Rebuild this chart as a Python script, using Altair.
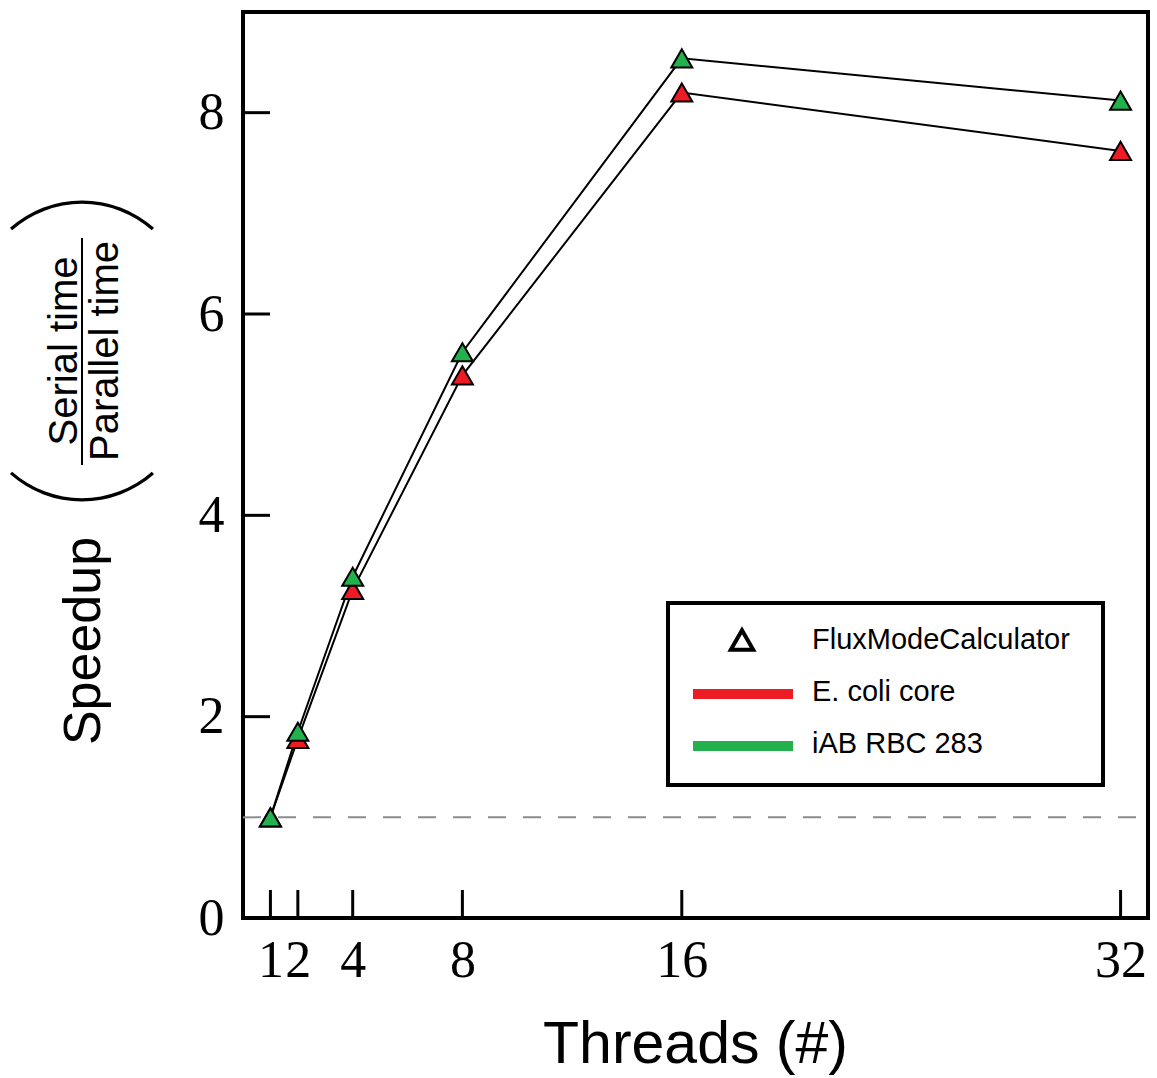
import altair as alt
import pandas as pd

# ---------------- data ----------------
threads = [1, 2, 4, 8, 16, 32]
ecoli_core = [1.0, 1.78, 3.26, 5.39, 8.20, 7.62]
iab_rbc_283 = [1.0, 1.85, 3.39, 5.62, 8.54, 8.12]
series_names = ["E. coli core", "iAB RBC 283"]
series_colors = ["#ed1c24", "#22b14c"]
x_ticks = [1, 2, 4, 8, 16, 32]
y_ticks = [0, 2, 4, 6, 8]
baseline_speedup = [1.0]
legend_labels = ["FluxModeCalculator", "E. coli core", "iAB RBC 283"]
x_title = "Threads (#)"
y_title = "Speedup"
y_num = "Serial time"
y_den = "Parallel time"

W, H = 905, 906
L, T = 243, 12

rows = []
for name, vals in zip(series_names, [ecoli_core, iab_rbc_283]):
    for t, v in zip(threads, vals):
        rows.append({"threads": t, "speedup": v, "series": name})
df = pd.DataFrame(rows)

xs = alt.Scale(domain=[0, 33], nice=False, zero=False)
ys = alt.Scale(domain=[0, 9], nice=False)

x_enc = alt.X("threads:Q", scale=xs, title=None,
              axis=alt.Axis(values=x_ticks, domain=False, ticks=False, grid=False,
                            labelFont="Liberation Serif", labelFontSize=52,
                            labelColor="black", labelPadding=17, labelOverlap=False,
                            labelFlush=False, format="d"))
y_enc = alt.Y("speedup:Q", scale=ys, title=None,
              axis=alt.Axis(values=y_ticks, domain=False, ticks=False, grid=False,
                            labelFont="Liberation Serif", labelFontSize=52,
                            labelColor="black", labelPadding=19, labelOverlap=False,
                            format="d"))

one = pd.DataFrame({"k": [0]})

# inward ticks
xt = alt.Chart(pd.DataFrame({"threads": x_ticks})).mark_rule(color="black", strokeWidth=3).encode(
    x=x_enc, y=alt.value(H), y2=alt.value(H - 28))
yt = alt.Chart(pd.DataFrame({"speedup": y_ticks})).mark_rule(color="black", strokeWidth=3).encode(
    y=y_enc, x=alt.value(0), x2=alt.value(27))

dashed = alt.Chart(pd.DataFrame({"speedup": baseline_speedup})).mark_rule(
    color="#8c8c8c", strokeWidth=2, strokeDash=[18, 17]).encode(
    y=y_enc, x=alt.value(0), x2=alt.value(W))

lines = alt.Chart(df).mark_line(color="black", strokeWidth=2).encode(
    x=x_enc, y=y_enc, detail="series:N")

pts = alt.Chart(df).mark_point(shape="triangle-up", filled=True, size=440, stroke="black",
                               strokeWidth=2, opacity=1).encode(
    x=x_enc, y=y_enc,
    color=alt.Color("series:N", scale=alt.Scale(domain=series_names, range=series_colors), legend=None))

# legend box
lg_box = alt.Chart(one).mark_rect(fill="white", stroke="black", strokeWidth=4).encode(
    x=alt.value(668 - L), x2=alt.value(1103 - L), y=alt.value(603 - T), y2=alt.value(785 - T))
lg_tri = alt.Chart(one).mark_point(shape="triangle-up", filled=False, size=500, stroke="black",
                                   strokeWidth=4, opacity=1).encode(
    x=alt.value(742 - L), y=alt.value(640 - T))
lg_red = alt.Chart(one).mark_rule(color=series_colors[0], strokeWidth=10).encode(
    x=alt.value(693 - L), x2=alt.value(793 - L), y=alt.value(694 - T))
lg_green = alt.Chart(one).mark_rule(color=series_colors[1], strokeWidth=10).encode(
    x=alt.value(693 - L), x2=alt.value(793 - L), y=alt.value(746 - T))
lg_texts = []
for lab, yy in zip(legend_labels, [640, 692, 744]):
    lg_texts.append(alt.Chart(one).mark_text(text=lab, font="Liberation Sans", fontSize=29,
                                             align="left", baseline="middle", color="black").encode(
        x=alt.value(812 - L), y=alt.value(yy - T)))

# axis titles
xtitle = alt.Chart(one).mark_text(text=x_title, font="Liberation Sans", fontSize=59,
                                  align="center", baseline="alphabetic", color="black").encode(
    x=alt.value(W / 2), y=alt.value(1063 - T))
ytitle = alt.Chart(one).mark_text(text=y_title, font="Liberation Sans", fontSize=52, angle=270,
                                  align="center", baseline="alphabetic", color="black").encode(
    x=alt.value(100 - L), y=alt.value(641 - T))
ynum = alt.Chart(one).mark_text(text=y_num, font="Liberation Sans", fontSize=40, angle=270,
                                align="center", baseline="alphabetic", color="black").encode(
    x=alt.value(77 - L), y=alt.value(351 - T))
yden = alt.Chart(one).mark_text(text=y_den, font="Liberation Sans", fontSize=40, angle=270,
                                align="center", baseline="alphabetic", color="black").encode(
    x=alt.value(118 - L), y=alt.value(351 - T))
ybar = alt.Chart(one).mark_rule(color="black", strokeWidth=2).encode(
    x=alt.value(82 - L), y=alt.value(238 - T), y2=alt.value(465 - T))
paren_top = alt.Chart(one).mark_arc(theta=5.557, theta2=7.009, outerRadius=108.5, innerRadius=105.2,
                                    color="black").encode(
    x=alt.value(82 - L), y=alt.value(309 - T))
paren_bot = alt.Chart(one).mark_arc(theta=2.416, theta2=3.868, outerRadius=108.5, innerRadius=105.2,
                                    color="black").encode(
    x=alt.value(82 - L), y=alt.value(393 - T))

chart = alt.layer(
    dashed, xt, yt, lines, pts, lg_box, lg_tri, lg_red, lg_green, *lg_texts,
    xtitle, ytitle, ynum, yden, ybar, paren_top, paren_bot
).properties(
    width=W, height=H,
    autosize=alt.AutoSizeParams(type="none"),
    padding={"left": L, "top": T, "right": 1157 - L - W, "bottom": 1078 - T - H},
    background="white",
).configure_view(stroke="black", strokeWidth=4)

chart.save("out.html", embed_options={"renderer": "svg", "actions": False})
